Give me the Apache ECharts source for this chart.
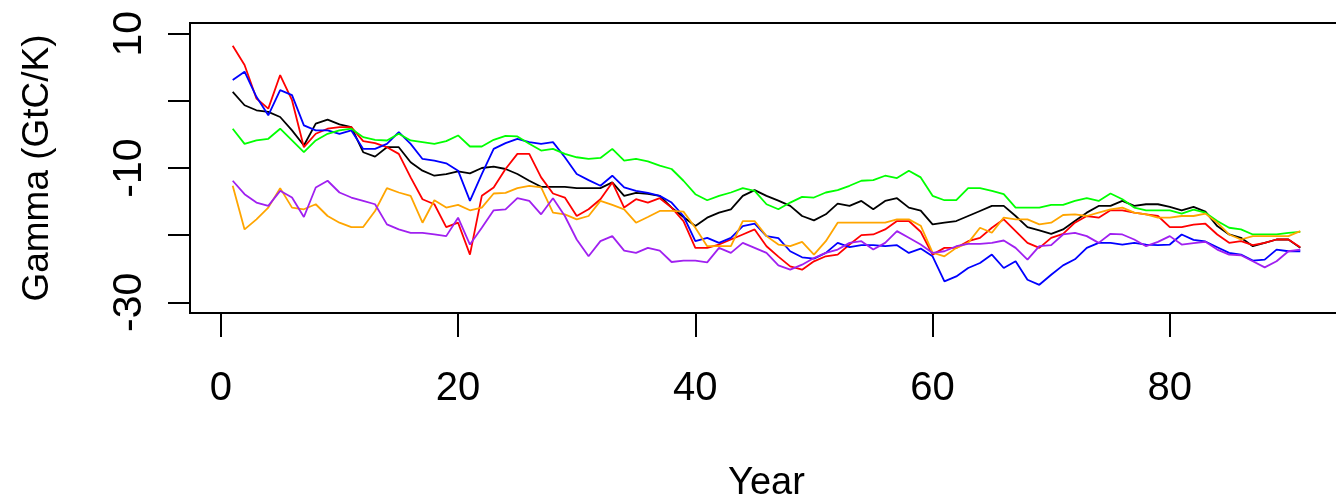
<!DOCTYPE html>
<html>
<head>
<meta charset="utf-8">
<script src="https://cdn.jsdelivr.net/npm/echarts@6/dist/echarts.min.js"></script>
<style>html,body{margin:0;padding:0;background:#fff}#c{width:1336px;height:500px}</style>
</head>
<body>
<div id="c"></div>
<script>
const years = Array.from({length: 91}, (_, i) => i + 1);
const xTicks = [0, 20, 40, 60, 80];
const yTicks = [-30, -20, -10, 0, 10];
const yLabels = [-30, -10, 10];

const black = [1.35,-0.65,-1.4,-1.65,-2.4,-4.4,-6.65,-3.4,-2.8,-3.5,-3.9,-7.65,-8.3,-6.9,-6.9,-9.15,-10.4,-11.15,-10.9,-10.5,-10.8,-10,-9.8,-10.15,-10.9,-11.9,-12.8,-12.8,-12.8,-13,-13,-13,-12.15,-14.15,-13.7,-13.85,-14.15,-15.9,-17.3,-18.65,-17.4,-16.65,-16.15,-14.15,-13.3,-14.15,-14.85,-15.65,-17.15,-17.8,-16.9,-15.3,-15.65,-14.9,-16.15,-14.9,-14.5,-15.9,-16.35,-18.4,-18.15,-17.9,-17.15,-16.4,-15.65,-15.65,-17.15,-18.8,-19.3,-19.8,-19.15,-17.9,-16.65,-15.65,-15.65,-14.9,-15.65,-15.4,-15.4,-15.8,-16.3,-15.8,-16.5,-18.65,-19.9,-20.4,-21.65,-21.15,-20.65,-20.65,-21.9];
const red = [8.2,5.35,0.35,-1.15,3.85,0.1,-6.9,-4.9,-4.15,-3.9,-3.9,-6,-6.3,-6.9,-7.9,-11.4,-14.65,-15.4,-18.8,-18.15,-22.9,-14.15,-12.9,-10.15,-7.9,-7.9,-11.4,-13.8,-14.4,-17.15,-16.15,-14.65,-12.15,-15.9,-14.65,-15.15,-14.5,-15.9,-17.9,-21.9,-21.9,-21.4,-20.65,-19.9,-19.15,-21.65,-23.2,-24.65,-25.15,-23.9,-23.15,-22.9,-21.4,-20,-19.9,-19.15,-17.9,-17.9,-19.5,-22.9,-21.9,-21.9,-20.9,-20.4,-18.9,-17.65,-19.4,-21.15,-21.9,-20.4,-19.8,-18.15,-17.15,-17.4,-16.3,-16.3,-16.65,-16.9,-17.15,-18.8,-18.8,-18.45,-18.3,-19.9,-21.15,-20.9,-21.5,-21.15,-20.65,-20.65,-21.8];
const blue = [3.1,4.35,0.6,-2.15,1.6,0.85,-3.65,-4.4,-4.4,-4.9,-4.4,-7.15,-7.15,-6.4,-4.65,-6.4,-8.65,-8.9,-9.3,-10.4,-14.9,-10.9,-7.15,-6.3,-5.65,-6.15,-6.4,-6.15,-8.4,-10.9,-11.8,-12.65,-11.15,-12.9,-13.4,-13.7,-14.15,-15.15,-17.15,-20.9,-20.4,-21.15,-20.4,-18.65,-18.3,-20.15,-20.45,-22.4,-23.3,-23.5,-22.65,-21.15,-21.8,-21.5,-21.5,-21.65,-21.5,-22.65,-22,-23.15,-26.9,-26.15,-24.9,-24.15,-22.9,-24.9,-23.9,-26.65,-27.4,-25.9,-24.5,-23.6,-21.9,-21.15,-21.15,-21.4,-21.15,-21.4,-21.5,-21.4,-19.9,-20.7,-20.95,-21.8,-22.65,-22.9,-23.8,-23.65,-22.15,-22.4,-22.4];
const green = [-4.15,-6.4,-5.9,-5.65,-4.15,-5.9,-7.65,-5.9,-4.9,-4.4,-4.15,-5.4,-5.8,-5.9,-4.9,-5.9,-6.15,-6.4,-6,-5.15,-6.8,-6.8,-5.8,-5.2,-5.3,-6.4,-7.4,-7.15,-7.9,-8.4,-8.65,-8.5,-7.15,-8.9,-8.65,-9,-9.65,-10.15,-11.9,-13.9,-14.8,-14.15,-13.65,-13,-13.4,-15.4,-16.15,-15.15,-14.3,-14.4,-13.65,-13.3,-12.65,-11.9,-11.8,-11.15,-11.5,-10.4,-11.4,-14.15,-14.8,-14.8,-13,-13,-13.4,-13.9,-15.9,-15.9,-15.9,-15.5,-15.5,-14.9,-14.5,-14.9,-13.8,-14.65,-15.9,-16.3,-16.3,-16.3,-16.8,-16.2,-16.65,-17.9,-18.9,-19.15,-19.9,-19.9,-19.9,-19.65,-19.5];
const orange = [-12.65,-19.15,-17.65,-15.9,-13,-15.9,-16.15,-15.4,-17.15,-18.15,-18.8,-18.8,-16.4,-13,-13.65,-14.15,-18.15,-14.8,-15.9,-15.5,-16.3,-15.9,-13.8,-13.7,-13,-12.65,-12.9,-16.65,-16.9,-17.65,-17.15,-14.9,-15.5,-16.15,-18.15,-17.3,-16.4,-16.4,-16.5,-18.9,-21.65,-21.65,-21.65,-17.9,-17.9,-20.15,-21.4,-21.65,-21,-22.9,-20.9,-18.15,-18.15,-18.15,-18.15,-18.15,-17.65,-17.65,-18.6,-22.6,-23.15,-21.9,-21.15,-18.9,-19.65,-17.4,-17.65,-17.65,-18.4,-18.15,-17,-16.9,-17.15,-16.65,-16.15,-15.9,-16.65,-16.9,-17.4,-17.4,-17.15,-17.15,-16.8,-18.15,-19.9,-20.65,-20.15,-20.15,-20.15,-20.15,-19.4];
const purple = [-11.9,-13.9,-15.15,-15.65,-13.4,-14.4,-17.3,-12.9,-11.9,-13.65,-14.4,-14.9,-15.4,-18.4,-19.15,-19.65,-19.65,-19.9,-20.15,-17.4,-21.4,-18.9,-16.3,-16.15,-14.5,-14.9,-16.9,-14.5,-17.15,-20.65,-23.15,-20.9,-20.15,-22.3,-22.65,-21.9,-22.3,-24,-23.8,-23.8,-24.05,-21.9,-22.65,-21.15,-21.9,-22.65,-24.5,-25.15,-24.4,-23.4,-22.65,-22.15,-21.15,-20.9,-22.15,-21.15,-19.4,-20.4,-21.4,-22.65,-22.4,-21.65,-21.3,-21.3,-21.15,-20.8,-21.9,-23.65,-21.65,-21.5,-19.9,-19.65,-20.15,-21.15,-19.8,-19.9,-20.65,-21.65,-21,-20.15,-21.4,-21.2,-21,-22.15,-22.9,-23,-23.9,-24.8,-23.9,-22.4,-22.15];

const seriesDefs = [
  {name: 'black', color: '#000000', values: black},
  {name: 'red', color: '#FF0000', values: red},
  {name: 'blue', color: '#0000FF', values: blue},
  {name: 'green', color: '#00FF00', values: green},
  {name: 'orange', color: '#FFA500', values: orange},
  {name: 'purple', color: '#A020F0', values: purple}
];

const chart = echarts.init(document.getElementById('c'), null, {renderer: 'canvas'});
const font = '"Liberation Sans", Arial, sans-serif';
chart.setOption({
  animation: false,
  backgroundColor: '#ffffff',
  grid: {left: 190, top: 23, width: 1153, height: 290, show: true, borderColor: '#000', borderWidth: 2, backgroundColor: 'transparent', outerBoundsMode: 'none', containLabel: false},
  xAxis: {
    type: 'value', min: -2.6, max: 94.6, position: 'bottom',
    name: 'Year', nameLocation: 'middle', nameGap: 152,
    nameTextStyle: {fontSize: 38, fontFamily: font, color: '#000'},
    axisLine: {show: false, onZero: false},
    axisTick: {show: true, length: 24, inside: false, lineStyle: {color: '#000', width: 2}, customValues: xTicks},
    axisLabel: {show: true, margin: 56, fontSize: 40, fontFamily: font, color: '#000', customValues: xTicks},
    splitLine: {show: false}
  },
  yAxis: {
    type: 'value', min: -31.6, max: 11.6, position: 'left',
    name: 'Gamma (GtC/K)', nameLocation: 'middle', nameGap: 134, nameRotate: 90,
    nameTextStyle: {fontSize: 37, fontFamily: font, color: '#000'},
    axisLine: {show: false, onZero: false},
    axisTick: {show: true, length: 22, inside: false, lineStyle: {color: '#000', width: 2}, customValues: yTicks},
    axisLabel: {show: true, rotate: 90, margin: 40, fontSize: 41, fontFamily: font, color: '#000', customValues: yLabels},
    splitLine: {show: false}
  },
  series: seriesDefs.map(s => ({
    name: s.name, type: 'line', showSymbol: false, symbol: 'none',
    data: years.map((y, i) => [y, s.values[i]]),
    lineStyle: {color: s.color, width: 1.8},
    itemStyle: {color: s.color},
    emphasis: {disabled: true}
  }))
});
</script>
</body>
</html>
